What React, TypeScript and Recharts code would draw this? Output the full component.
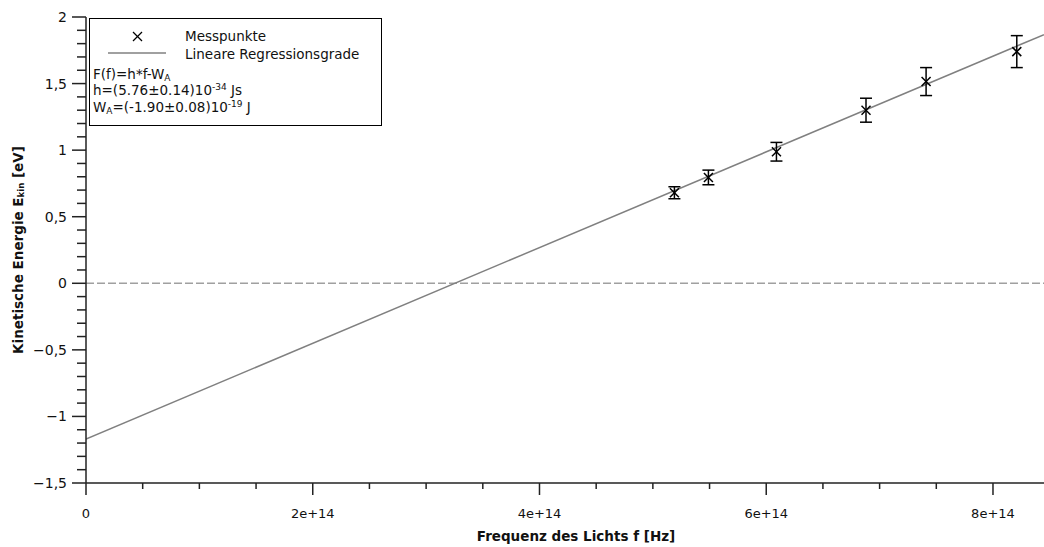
import { ComposedChart, Line, Scatter, ErrorBar, XAxis, YAxis, ReferenceLine } from "recharts";

// measured points: light frequency [Hz], kinetic energy [eV], error [eV]
const frequencies = [5.19e14, 5.49e14, 6.09e14, 6.88e14, 7.41e14, 8.21e14];
const energies = [0.68, 0.795, 0.988, 1.3, 1.515, 1.74];
const energyErrors = [0.045, 0.055, 0.07, 0.09, 0.105, 0.12];

// regression line F(f) = h*f - W_A, in eV
const slopeEv = 3.595e-15;
const interceptEv = -1.17;
const xMax = 8.45e14;

const xTicksMajor = [0, 2e14, 4e14, 6e14, 8e14];
const xTickLabels = ["0", "2e+14", "4e+14", "6e+14", "8e+14"];
const yTicksMajor = [-1.5, -1, -0.5, 0, 0.5, 1, 1.5, 2];
const yTickLabels = ["\u22121,5", "\u22121", "\u22120,5", "0", "0,5", "1", "1,5", "2"];

const points = frequencies.map((f, i) => ({ f, e: energies[i], err: energyErrors[i] }));
const fitLine = [0, xMax].map((f) => ({ f, e: slopeEv * f + interceptEv }));

const xTicks = Array.from({ length: 17 }, (_, i) => i * 0.5e14);
const yTicks = Array.from({ length: 36 }, (_, i) => Math.round((-1.5 + i * 0.1) * 10) / 10);

const font = "'DejaVu Sans', Verdana, sans-serif";
const axisColor = "#222";

const XTick = (props: any) => {
  const { x, y, payload } = props;
  const idx = xTicksMajor.findIndex((v) => Math.abs(v - payload.value) < 1e10);
  const major = idx >= 0;
  return (
    <g>
      <line x1={x} x2={x} y1={y} y2={y + (major ? 12 : 6)} stroke={axisColor} strokeWidth={1.5} />
      {major && (
        <text x={x} y={y + 35} textAnchor="middle" fontFamily={font} fontSize={13} fill="#111">
          {xTickLabels[idx]}
        </text>
      )}
    </g>
  );
};

const YTick = (props: any) => {
  const { x, y, payload } = props;
  const idx = yTicksMajor.findIndex((v) => Math.abs(v - payload.value) < 1e-6);
  const major = idx >= 0;
  return (
    <g>
      <line x1={x - (major ? 14 : 9)} x2={x} y1={y} y2={y} stroke={axisColor} strokeWidth={1.5} />
      {major && (
        <text x={x - 19} y={y + 5} textAnchor="end" fontFamily={font} fontSize={14} fill="#111">
          {yTickLabels[idx]}
        </text>
      )}
    </g>
  );
};

const XTitle = () => (
  <text x={576} y={541} textAnchor="middle" fontFamily={font} fontSize={13.5} fontWeight="bold" fill="#111">
    Frequenz des Lichts f [Hz]
  </text>
);

const YTitle = () => (
  <text
    x={18}
    y={250}
    transform="rotate(-90, 18, 250)"
    textAnchor="middle"
    dominantBaseline="central"
    fontFamily={font}
    fontSize={13.5}
    fontWeight="bold"
    fill="#111"
  >
    Kinetische Energie E
    <tspan fontSize={8.5} dy={3}>kin</tspan>
    <tspan dy={-3}> [eV]</tspan>
  </text>
);

const CrossShape = (props: any) => {
  const { cx, cy } = props;
  const s = 4.5;
  return (
    <g>
      <line x1={cx - s} y1={cy - s} x2={cx + s} y2={cy + s} stroke="#000" strokeWidth={1.5} />
      <line x1={cx - s} y1={cy + s} x2={cx + s} y2={cy - s} stroke="#000" strokeWidth={1.5} />
    </g>
  );
};

const row = (top: number, left: number) => ({
  position: "absolute" as const,
  top: top - 8,
  left,
  lineHeight: "16px",
  whiteSpace: "nowrap" as const,
});

const subStyle = { fontSize: 9, verticalAlign: "-2px", lineHeight: 0 };
const supStyle = { fontSize: 9, verticalAlign: "5px", lineHeight: 0 };

function LegendBox() {
  return (
    <div
      style={{
        position: "absolute",
        left: 89,
        top: 18,
        width: 293,
        height: 108,
        border: "1.5px solid #000",
        boxSizing: "border-box",
        background: "#fff",
        fontFamily: font,
        fontSize: 13.5,
        color: "#111",
      }}
    >
      <svg style={{ position: "absolute", left: 0, top: 0 }} width={290} height={60}>
        <line x1={43} y1={13} x2={52} y2={22} stroke="#000" strokeWidth={1.3} />
        <line x1={43} y1={22} x2={52} y2={13} stroke="#000" strokeWidth={1.3} />
        <line x1={18} y1={34} x2={76} y2={34} stroke="#808080" strokeWidth={1.5} />
      </svg>
      <div style={row(17, 95)}>Messpunkte</div>
      <div style={row(35, 95)}>Lineare Regressionsgrade</div>
      <div style={row(55, 3)}>
        F(f)=h*f-W<sub style={subStyle}>A</sub>
      </div>
      <div style={row(71, 3)}>
        h=(5.76±0.14)10<sup style={supStyle}>-34</sup> Js
      </div>
      <div style={row(88, 3)}>
        W<sub style={subStyle}>A</sub>=(-1.90±0.08)10<sup style={supStyle}>-19</sup> J
      </div>
    </div>
  );
}

export default function App() {
  return (
    <div style={{ position: "absolute", left: 0, top: 0, width: 1044, height: 547, background: "#fff" }}>
      <ComposedChart width={1044} height={547} margin={{ top: 17, right: 0, left: 0, bottom: 0 }}>
        <XAxis
          type="number"
          dataKey="f"
          domain={[0, xMax]}
          ticks={xTicks}
          interval={0}
          allowDataOverflow
          height={64}
          tickSize={0}
          tickMargin={0}
          tick={<XTick />}
          stroke={axisColor}
          strokeWidth={1.5}
          label={<XTitle />}
        />
        <YAxis
          type="number"
          dataKey="e"
          domain={[-1.5, 2]}
          ticks={yTicks}
          interval={0}
          allowDataOverflow
          width={86}
          tickSize={0}
          tickMargin={0}
          tick={<YTick />}
          stroke={axisColor}
          strokeWidth={1.5}
          label={<YTitle />}
        />
        <ReferenceLine y={0} stroke="#a0a0a0" strokeWidth={1.5} strokeDasharray="8 3" />
        <Line
          data={fitLine}
          dataKey="e"
          type="linear"
          stroke="#808080"
          strokeWidth={1.5}
          dot={false}
          activeDot={false}
          isAnimationActive={false}
        />
        <Scatter data={points} dataKey="e" shape={<CrossShape />} isAnimationActive={false}>
          <ErrorBar dataKey="err" direction="y" width={6} stroke="#000" strokeWidth={1.5} />
        </Scatter>
      </ComposedChart>
      <LegendBox />
    </div>
  );
}
